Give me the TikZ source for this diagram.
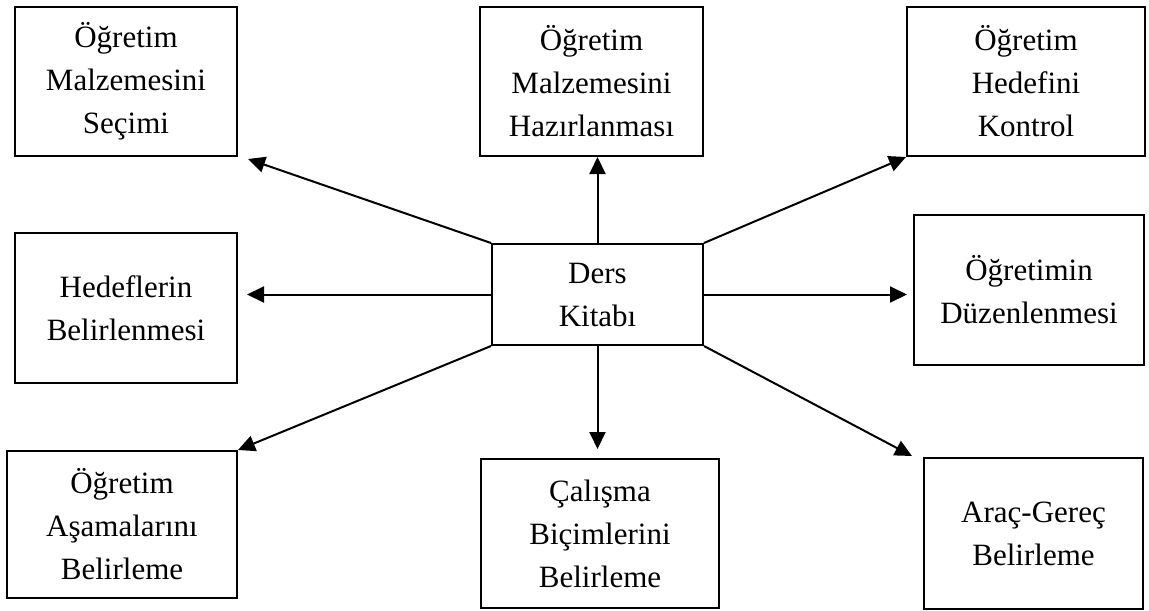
\documentclass[tikz,border=0pt]{standalone}
\usepackage{fontspec}
\setmainfont{Liberation Serif}
\usetikzlibrary{arrows.meta}

\begin{document}
\begin{tikzpicture}[x=0.5pt,y=-0.5pt,
	kutu/.style={draw=black,line width=1pt,align=center,inner sep=0pt,
		font=\fontsize{15.5}{21.5}\selectfont},
	ok/.style={draw=black,line width=1pt,-{Triangle[length=8.5pt,width=8pt]}}]
	\useasboundingbox (0,0) rectangle (1149,610);

	% ust sira
	\node[kutu,minimum width=111pt,minimum height=74.5pt] (secim) at (126,81.5) {Öğretim\\Malzemesini\\Seçimi};
	\node[kutu,minimum width=111.5pt,minimum height=74.5pt] (hazirlama) at (591.5,81.5) {Öğretim\\Malzemesini\\Hazırlanması};
	\node[kutu,minimum width=119pt,minimum height=74.5pt] (kontrol) at (1026,81.5) {Öğretim\\Hedefini\\Kontrol};

	% orta sira
	\node[kutu,minimum width=111pt,minimum height=75pt] (hedef) at (126,308) {Hedeflerin\\Belirlenmesi};
	\node[kutu,minimum width=105.5pt,minimum height=50.5pt] (kitap) at (597.5,294.5) {Ders\\Kitabı};
	\node[kutu,minimum width=115pt,minimum height=75pt] (duzen) at (1029,290) {Öğretimin\\Düzenlenmesi};

	% alt sira
	\node[kutu,minimum width=115pt,minimum height=73.5pt] (asama) at (122,524.5) {Öğretim\\Aşamalarını\\Belirleme};
	\node[kutu,minimum width=119pt,minimum height=74.5pt] (calisma) at (600,533.5) {Çalışma\\Biçimlerini\\Belirleme};
	\node[kutu,minimum width=109.5pt,minimum height=75.5pt] (arac) at (1033.5,533.5) {Araç-Gereç\\Belirleme};

	% oklar
	\draw[ok] (kitap.north west) -- ([shift={(5pt,-1pt)}]secim.south east);
	\draw[ok] (kitap.north) -- (kitap.north |- hazirlama.south);
	\draw[ok] (kitap.north east) -- (kontrol.south west);
	\draw[ok,shorten >=4.5pt] (kitap.west) -- (kitap.west -| hedef.east);
	\draw[ok,shorten >=3pt] (kitap.east) -- (kitap.east -| duzen.west);
	\draw[ok] (kitap.south west) -- (asama.north east);
	\draw[ok,shorten >=4.5pt] (kitap.south) -- (kitap.south |- calisma.north);
	\draw[ok] (kitap.south east) -- ([shift={(-5.5pt,0.5pt)}]arac.north west);
\end{tikzpicture}
\end{document}
